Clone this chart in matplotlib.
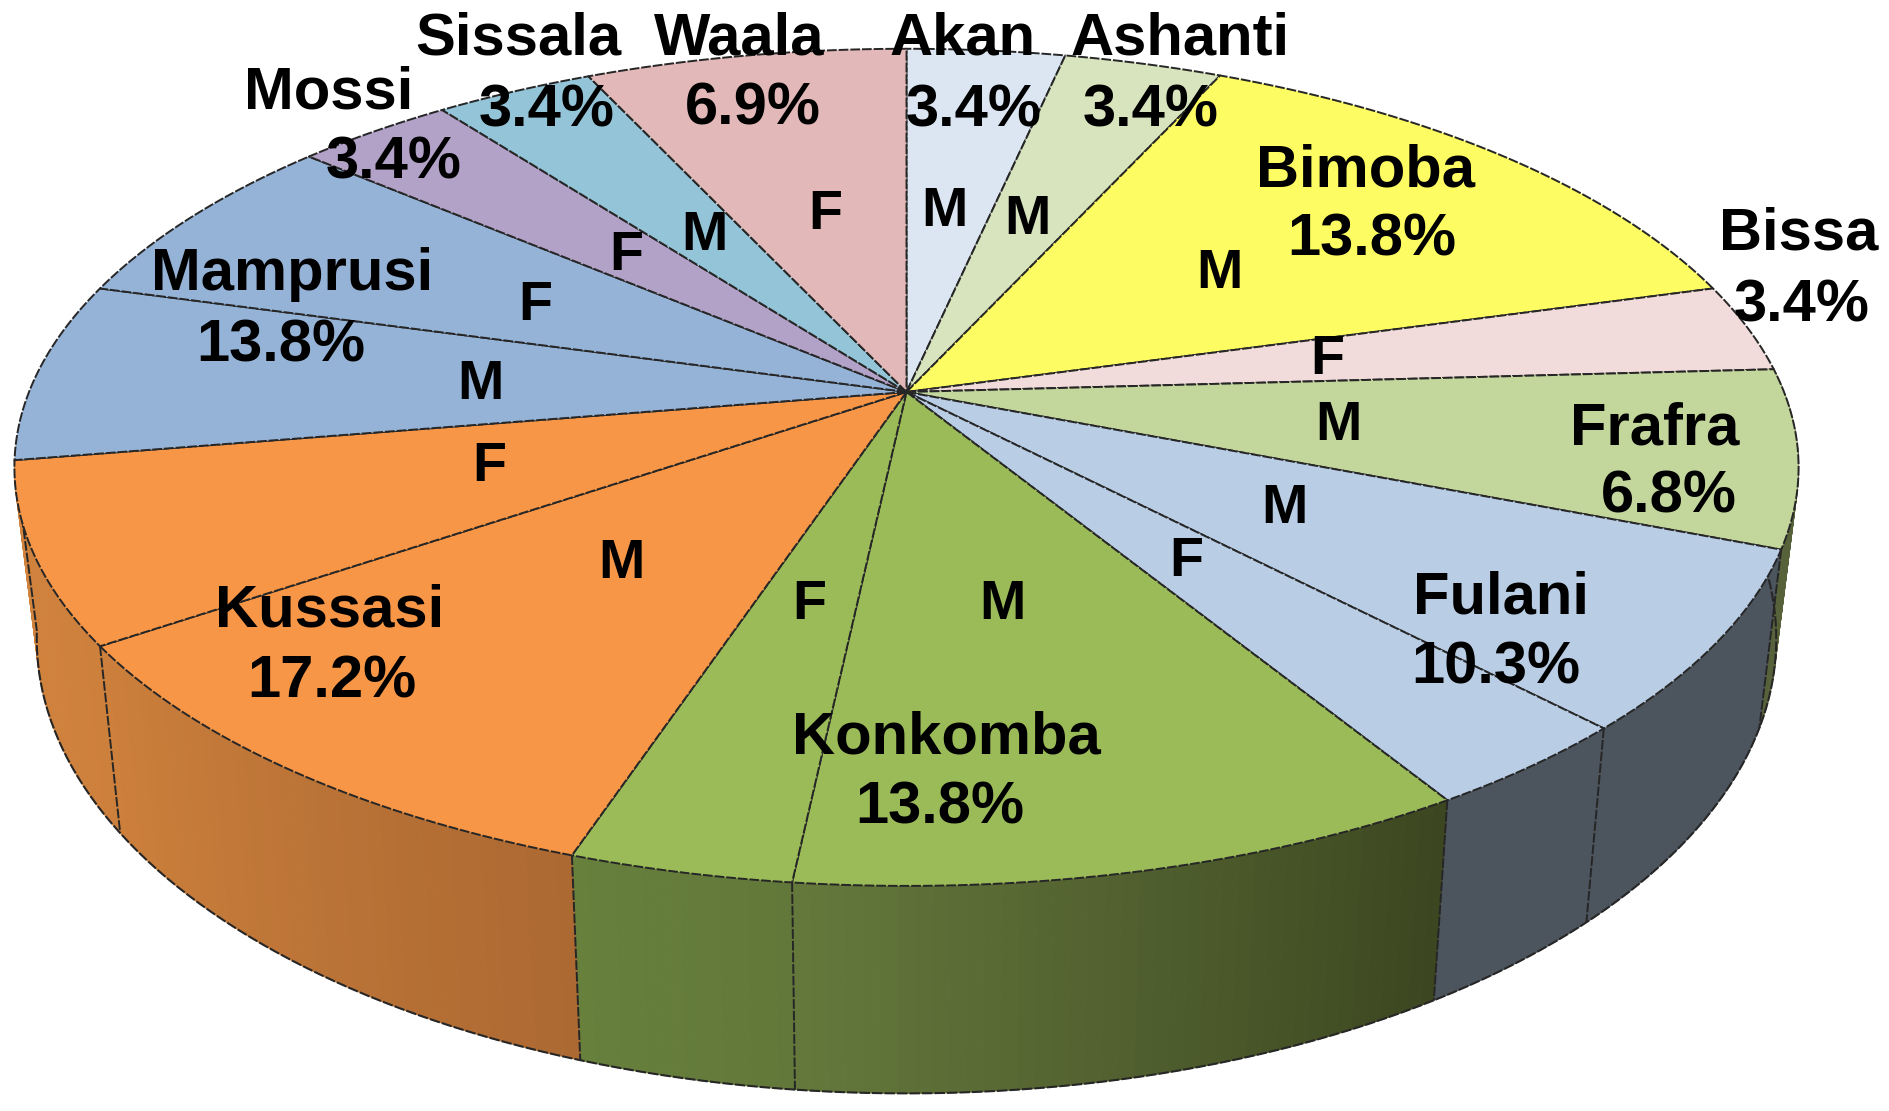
import numpy as np
import matplotlib
matplotlib.use("Agg")
import matplotlib.pyplot as plt

plt.rcParams['font.family'] = ['Liberation Sans', 'DejaVu Sans']

# slices clockwise from 12 o'clock
slice_group = ["Akan", "Ashanti", "Bimoba", "Bissa", "Frafra", "Fulani", "Fulani",
               "Konkomba", "Konkomba", "Kussasi", "Kussasi", "Mamprusi", "Mamprusi",
               "Mossi", "Sissala", "Waala"]
slice_sex = ["M", "M", "M", "F", "M", "M", "F", "M", "F", "M", "F", "M", "F", "F", "M", "F"]
slice_pct = [3.4, 3.4, 13.8, 3.4, 6.8, 6.9, 3.4, 10.4, 3.4, 10.3, 6.9, 6.9, 6.9, 3.4, 3.4, 6.9]

group_names = ["Akan", "Ashanti", "Bimoba", "Bissa", "Frafra", "Fulani", "Konkomba",
               "Kussasi", "Mamprusi", "Mossi", "Sissala", "Waala"]
group_pct = ["3.4%", "3.4%", "13.8%", "3.4%", "6.8%", "10.3%", "13.8%",
             "17.2%", "13.8%", "3.4%", "3.4%", "6.9%"]

top_colors = {"Akan": "#DCE6F2", "Ashanti": "#D7E4BD", "Bimoba": "#FDFC62", "Bissa": "#F2DCDB",
              "Frafra": "#C3D69B", "Fulani": "#B9CDE5", "Konkomba": "#9BBB59", "Kussasi": "#F79646",
              "Mamprusi": "#95B3D7", "Mossi": "#B3A2C7", "Sissala": "#93C4D7", "Waala": "#E2B8B8"}

# wall shading, start and end colour of each slice (only the front ones show)
wall_colors = {4: ((88, 98, 58), (88, 98, 58)),
               5: ((76, 84, 93), (76, 84, 93)),
               6: ((76, 84, 93), (76, 84, 93)),
               7: ((60, 70, 32), (100, 120, 60)),
               8: ((98, 120, 58), (103, 128, 60)),
               9: ((172, 105, 50), (205, 128, 60)),
               10: ((205, 128, 60), (210, 132, 62))}

# text centres in pixels
name_xy = [(963, 39), (1180, 39), (1366, 171), (1799, 234), (1655, 429), (1501, 598), (946, 738),
           (330, 611), (292, 275), (329, 93), (518, 39), (739, 39)]
pct_xy = [(974, 111), (1151, 111), (1372, 240), (1802, 306), (1669, 497), (1496, 668), (940, 808),
          (332, 682), (281, 346), (394, 163), (547, 111), (753, 109)]
sex_xy = [(944, 212), (1027, 220), (1219, 274), (1327, 360), (1338, 426), (1284, 509), (1186, 562),
          (1002, 605), (809, 605), (621, 564), (489, 467), (480, 385), (535, 306), (626, 256),
          (704, 236), (825, 215)]

CX, CY = 906.5, 392.0
A, B, K = 877.5, 405.0, 0.18


def top_rim(t):
    # t in radians clockwise from the top, perspective view of the disc
    u, v = np.sin(t), np.cos(t)
    return CX + A * u / (1 + K * v), CY - B * v / (1 + K * v)


def low_rim(t):
    x, y = top_rim(t)
    return CX + 0.975 * (x - CX), 557 + 1.086 * (y - CY)


fig = plt.figure(figsize=(18.9, 11.11), dpi=100)
ax = fig.add_axes([0, 0, 1, 1])
ax.set_xlim(0, 1890)
ax.set_ylim(1111, 0)
ax.axis("off")

bounds = np.cumsum([0] + slice_pct) / sum(slice_pct) * 2 * np.pi
edge = "#262626"

# side wall first, the top covers what is behind it
for i in wall_colors:
    c0, c1 = wall_colors[i]
    tt = np.linspace(bounds[i], bounds[i + 1], 41)
    for j in range(40):
        f = j / 39
        col = tuple((c0[n] + (c1[n] - c0[n]) * f) / 255 for n in range(3))
        x0, y0 = top_rim(tt[j:j + 2])
        x1, y1 = low_rim(tt[j:j + 2])
        ax.fill(np.r_[x0, x1[::-1]], np.r_[y0, y1[::-1]], color=col, lw=0.8, zorder=1)

for t in bounds[5:12]:
    x0, y0 = top_rim(t)
    x1, y1 = low_rim(t)
    ax.plot([x0, x1], [y0, y1], color=edge, lw=1.4, ls=(0, (5, 1)), zorder=2)
tt = np.linspace(bounds[4], bounds[11], 300)
ax.plot(*low_rim(tt), color=edge, lw=1.5, ls=(0, (5, 1)), zorder=2)

# top face
for i, name in enumerate(slice_group):
    tt = np.linspace(bounds[i], bounds[i + 1], 80)
    x, y = top_rim(tt)
    ax.fill(np.r_[CX, x], np.r_[CY, y], facecolor=top_colors[name], edgecolor=edge,
            lw=1.4, ls=(0, (5, 1)), zorder=3, joinstyle="round")

for name, pct, p0, p1 in zip(group_names, group_pct, name_xy, pct_xy):
    ax.text(p0[0], p0[1], name, fontsize=43, fontweight="bold", ha="center", va="center",
            color="black", zorder=5)
    ax.text(p1[0], p1[1], pct, fontsize=43, fontweight="bold", ha="center", va="center",
            color="black", zorder=5)
for sex, p in zip(slice_sex, sex_xy):
    ax.text(p[0], p[1], sex, fontsize=40, fontweight="bold", ha="center", va="center",
            color="black", zorder=5)

fig.savefig("out.png", dpi=100, facecolor="white")
